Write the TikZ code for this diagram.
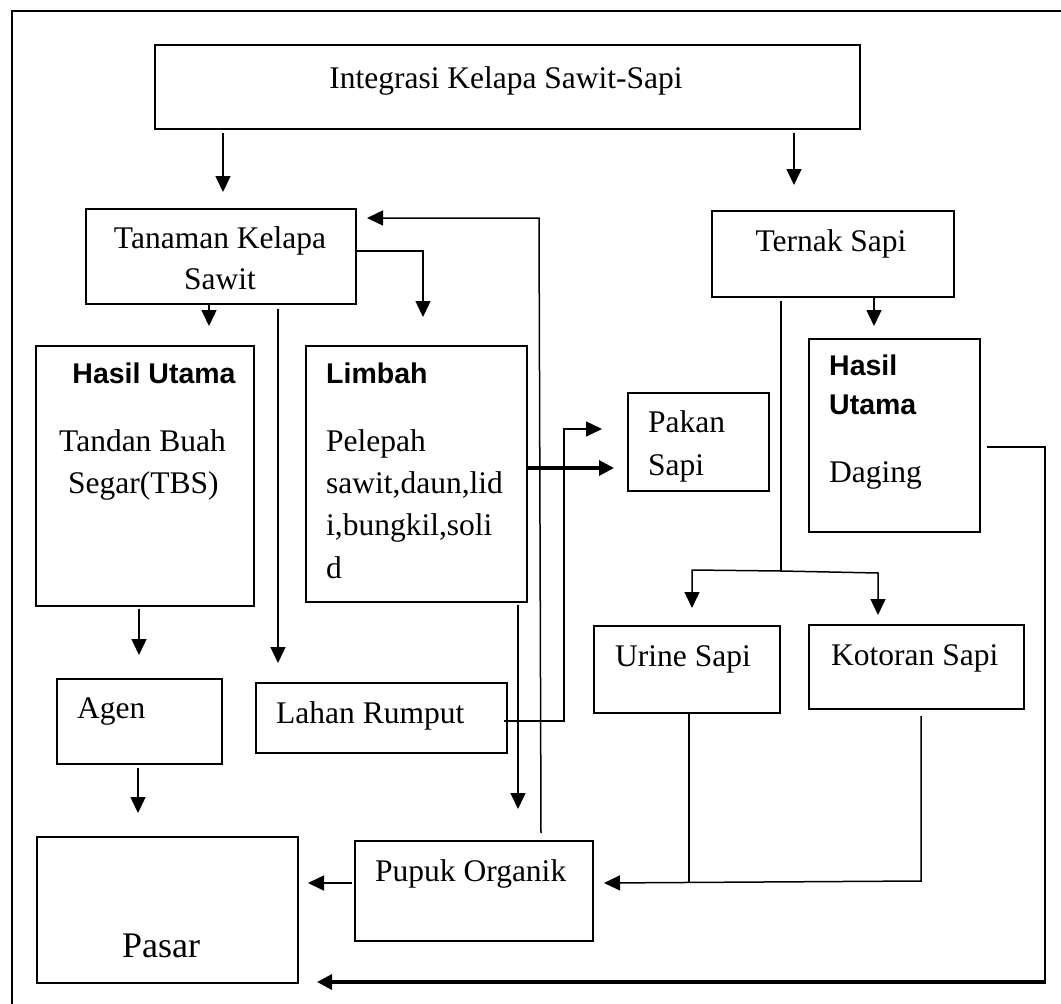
\documentclass[tikz,border=0pt]{standalone}
\usepackage{fontspec}
\setmainfont{Liberation Serif}
\newfontfamily\hsans{Liberation Sans}
\usetikzlibrary{arrows.meta}
\tikzset{
  box/.style={draw, line width=2pt, rectangle, inner sep=0pt, anchor=north west},
  txt/.style={inner sep=0pt, font=\fontsize{31.5}{36}\selectfont},
  btxt/.style={inner sep=0pt, font=\hsans\bfseries\fontsize{28.5}{32}\selectfont},
  arr/.style={line width=1.5pt, -{Triangle[length=16pt,width=15pt]}},
  con/.style={line width=1.5pt},
  tarr/.style={line width=3.2pt, -{Triangle[length=15pt,width=15pt]}},
}
\newcommand{\mybox}[5]{\node[box, minimum width=#4-#2, minimum height=#5-#3] (#1) at (#2,#3) {};}
\begin{document}
\begin{tikzpicture}[x=1pt,y=-1pt]
\useasboundingbox (0,0) rectangle (1061,1004);
% frame
\draw[line width=2.5pt] (12,1004) -- (12,11) -- (1061,11);
% boxes
\mybox{int}{154}{44}{859}{128}
\mybox{tan}{85}{208}{355}{303}
\mybox{huA}{35}{345}{253}{605}
\mybox{lim}{305}{345}{526}{601}
\mybox{pak}{627}{392}{768}{490}
\mybox{ter}{711}{210}{953}{296}
\mybox{huB}{808}{338}{979}{531}
\mybox{agen}{56}{678}{221}{763}
\mybox{lahan}{255}{682}{506}{752}
\mybox{urine}{593}{625}{779}{712}
\mybox{kot}{808}{624}{1023}{708}
\mybox{pasar}{36}{836}{297}{982}
\mybox{pupuk}{354}{840}{592}{940}
% texts
\node[txt, anchor=base] (tInt) at (506,88) {Integrasi Kelapa Sawit-Sapi};
\node[txt, anchor=base] (tTan1) at (220,248) {Tanaman Kelapa};
\node[txt, anchor=base] (tTan2) at (220,289) {Sawit};
\node[btxt, anchor=base] (tHu1) at (154,383) {Hasil Utama};
\node[txt, anchor=base west] (tTbs1) at (59,451) {Tandan Buah};
\node[txt, anchor=base west] (tTbs2) at (68,493) {Segar(TBS)};
\node[btxt, anchor=base west] (tLim) at (326,383) {Limbah};
\node[txt, anchor=base west] (tL1) at (326,451) {Pelepah};
\node[txt, anchor=base west] (tL2) at (326,493) {sawit,daun,lid};
\node[txt, anchor=base west] (tL3) at (326,535) {i,bungkil,soli};
\node[txt, anchor=base west] (tL4) at (326,578) {d};
\node[txt, anchor=base] (tTer) at (831,251) {Ternak Sapi};
\node[txt, anchor=base west] (tPak1) at (648,432) {Pakan};
\node[txt, anchor=base west] (tPak2) at (648,475) {Sapi};
\node[btxt, anchor=base west] (tHu2a) at (829,375) {Hasil};
\node[btxt, anchor=base west] (tHu2b) at (829,414) {Utama};
\node[txt, anchor=base west] (tDag) at (829,482) {Daging};
\node[txt, anchor=base west] (tAgen) at (77,718) {Agen};
\node[txt, anchor=base west] (tLahan) at (276,723) {Lahan Rumput};
\node[txt, anchor=base west] (tPupuk) at (375,881) {Pupuk Organik};
\node[inner sep=0pt, font=\fontsize{36}{40}\selectfont, anchor=base west] (tPasar) at (122,957) {Pasar};
\node[txt, anchor=base west] (tUrine) at (615,666) {Urine Sapi};
\node[txt, anchor=base west] (tKot) at (831,665) {Kotoran Sapi};
% connector end points
\coordinate (a1s) at (223,133); \coordinate (a1e) at (223,192);
\coordinate (a2s) at (794,133); \coordinate (a2e) at (794,185);
\coordinate (a3s) at (356,251); \coordinate (a3m) at (423,251); \coordinate (a3e) at (423,317);
\coordinate (a4s) at (209,304); \coordinate (a4e) at (209,326);
\coordinate (a5s) at (278,309); \coordinate (a5e) at (278,663);
\coordinate (a6s) at (541,833); \coordinate (a6m) at (539,218); \coordinate (a6e) at (367,218);
\coordinate (a7s) at (526,468); \coordinate (a7e) at (614,468);
\coordinate (a8s) at (504,721); \coordinate (a8m) at (564,721); \coordinate (a8n) at (564,429); \coordinate (a8e) at (602,429);
\coordinate (a9s) at (518,605); \coordinate (a9e) at (518,809);
\coordinate (a10s) at (139,609); \coordinate (a10e) at (139,655);
\coordinate (a11s) at (138,768); \coordinate (a11e) at (138,813);
\coordinate (a12s) at (352,883); \coordinate (a12e) at (308,883);
\coordinate (a13s) at (874,297); \coordinate (a13e) at (874,326);
\coordinate (a14s) at (781,301); \coordinate (a14m) at (781,571);
\coordinate (a14l) at (692,570); \coordinate (a14le) at (692,608);
\coordinate (a14r) at (878,573); \coordinate (a14re) at (878,615);
\coordinate (a15s) at (987,447); \coordinate (a15m) at (1045,447); \coordinate (a15n) at (1045,982); \coordinate (a15e) at (317,982);
\coordinate (a16s) at (689,712); \coordinate (a16m) at (689,882);
\coordinate (a17s) at (921,716); \coordinate (a17m) at (921,881); \coordinate (a17e) at (604,883);
% connectors
\draw[arr] (a1s) -- (a1e);
\draw[arr] (a2s) -- (a2e);
\draw[arr] (a3s) -- (a3m) -- (a3e);
\draw[arr] (a4s) -- (a4e);
\draw[arr] (a5s) -- (a5e);
\draw[arr] (a6s) -- (a6m) -- (a6e);
\draw[tarr] (a7s) -- (a7e);
\draw[arr] (a8s) -- (a8m) -- (a8n) -- (a8e);
\draw[arr] (a9s) -- (a9e);
\draw[arr] (a10s) -- (a10e);
\draw[arr] (a11s) -- (a11e);
\draw[arr] (a12s) -- (a12e);
\draw[arr] (a13s) -- (a13e);
\draw[con] (a14s) -- (a14m);
\draw[arr] (a14m) -- (a14l) -- (a14le);
\draw[arr] (a14m) -- (a14r) -- (a14re);
\draw[line width=2pt] (a15s) -- (a15m) -- ([yshift=-1pt]a15n);
\draw[tarr] ([xshift=1pt]a15n) -- (a15e);
\draw[con] (a16s) -- (a16m);
\draw[arr] (a17s) -- (a17m) -- (a17e);
\end{tikzpicture}
\end{document}
